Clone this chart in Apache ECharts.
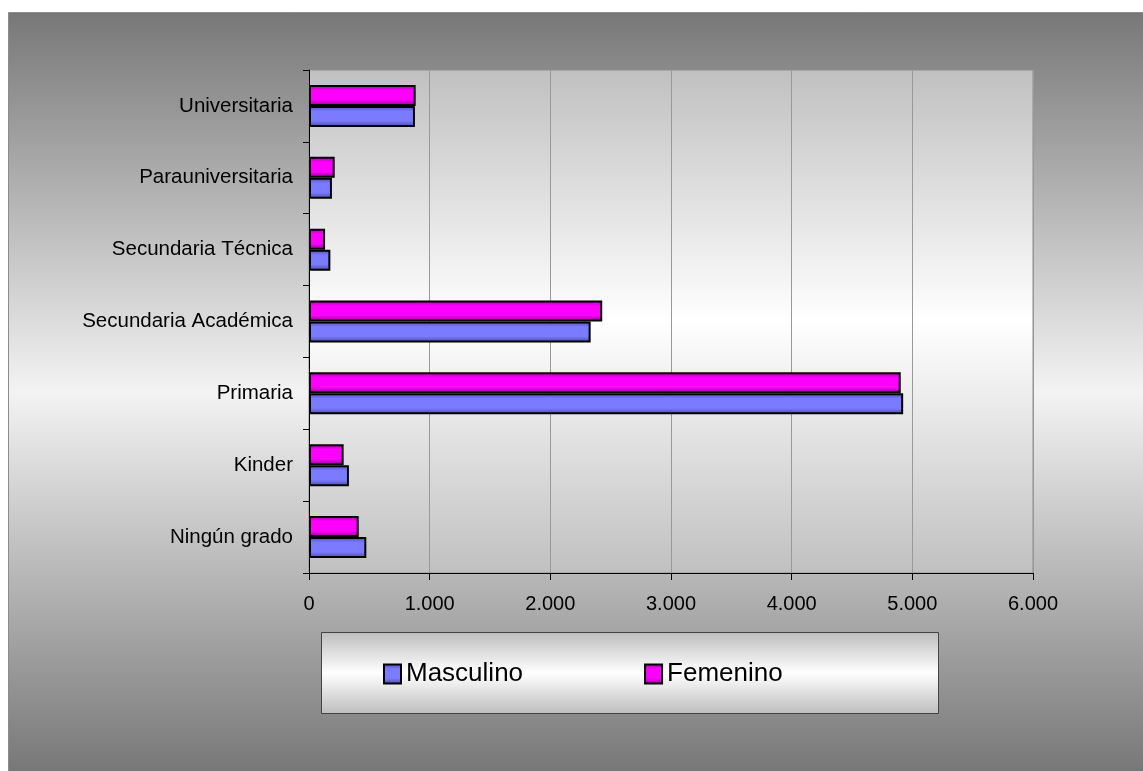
<!DOCTYPE html>
<html>
<head>
<meta charset="utf-8">
<script src="https://cdn.jsdelivr.net/npm/echarts@6/dist/echarts.min.js"></script>
<style>
html,body{margin:0;padding:0;background:#ffffff;}
#chart{width:1143px;height:771px;}
</style>
</head>
<body>
<div id="chart"></div>
<script>
var categories = ['Ningún grado', 'Kinder', 'Primaria', 'Secundaria Académica', 'Secundaria Técnica', 'Parauniversitaria', 'Universitaria'];
var masculino = [475, 331, 4924, 2334, 177, 190, 878];
var femenino = [412, 287, 4904, 2430, 133, 213, 884];
var seriesNames = ['Masculino', 'Femenino'];
var xTicks = { min: 0, max: 6000, interval: 1000 };

var FONT = 'Liberation Sans, Arial, sans-serif';
function vgrad(stops) {
  return new echarts.graphic.LinearGradient(0, 0, 0, 1, stops.map(function (s) { return { offset: s[0], color: s[1] }; }));
}
var chart = echarts.init(document.getElementById('chart'), null, { renderer: 'canvas' });
function fmt(v) { return String(v).replace(/\B(?=(\d{3})+(?!\d))/g, '.'); }

chart.setOption({
  animation: false,
  backgroundColor: '#ffffff',
  graphic: [
    {
      type: 'rect', z: -10, left: 8, top: 12,
      shape: { width: 1135, height: 759 },
      style: { fill: vgrad([[0, '#777777'], [0.5, '#f3f3f3'], [1, '#777777']]), stroke: '#8c8c8c', lineWidth: 1 }
    },
    {
      type: 'rect', z: -10, left: 321, top: 632,
      shape: { width: 617, height: 81 },
      style: { fill: vgrad([[0, '#bdbdbd'], [0.5, '#ffffff'], [1, '#bdbdbd']]), stroke: '#444444', lineWidth: 1 }
    }
  ],
  grid: {
    left: 309, top: 70, right: 110, bottom: 198,
    show: true,
    backgroundColor: vgrad([[0, '#c0c0c0'], [0.5, '#ffffff'], [1, '#c0c0c0']]),
    borderColor: '#8c8c8c', borderWidth: 1
  },
  legend: {
    left: 383, top: 661, padding: 0,
    itemWidth: 17, itemHeight: 19, itemGap: 121,
    icon: 'rect',
    textStyle: { fontFamily: FONT, fontSize: 26, color: '#000000' },
    itemStyle: { borderColor: '#000000', borderWidth: 2 },
    data: seriesNames
  },
  xAxis: {
    type: 'value', min: xTicks.min, max: xTicks.max, interval: xTicks.interval,
    axisLine: { show: true, lineStyle: { color: '#000000', width: 1 } },
    axisTick: { show: true, length: 7, lineStyle: { color: '#000000' } },
    axisLabel: { fontFamily: FONT, fontSize: 20, color: '#000000', margin: 21, formatter: fmt },
    splitLine: { show: true, lineStyle: { color: '#999999', width: 1 } }
  },
  yAxis: {
    type: 'category', data: categories,
    axisLine: { show: true, lineStyle: { color: '#000000', width: 1 } },
    axisTick: { show: true, length: 6, inside: false, lineStyle: { color: '#000000' } },
    axisLabel: { fontFamily: FONT, fontSize: 20.5, color: '#000000', margin: 16 },
    splitLine: { show: false }
  },
  series: [
    {
      name: seriesNames[1], type: 'bar', data: femenino,
      barWidth: 21, barGap: '0%',
      itemStyle: {
        color: vgrad([[0, '#a000a0'], [0.25, '#ff00ff'], [0.7, '#ff00ff'], [1, '#900090']]),
        borderColor: '#000000', borderWidth: 2
      }
    },
    {
      name: seriesNames[0], type: 'bar', data: masculino,
      barWidth: 21, barGap: '0%',
      itemStyle: {
        color: vgrad([[0, '#4a4aa8'], [0.25, '#7b7bff'], [0.7, '#7b7bff'], [1, '#4a4aa0']]),
        borderColor: '#000000', borderWidth: 2
      }
    }
  ]
});
</script>
</body>
</html>
